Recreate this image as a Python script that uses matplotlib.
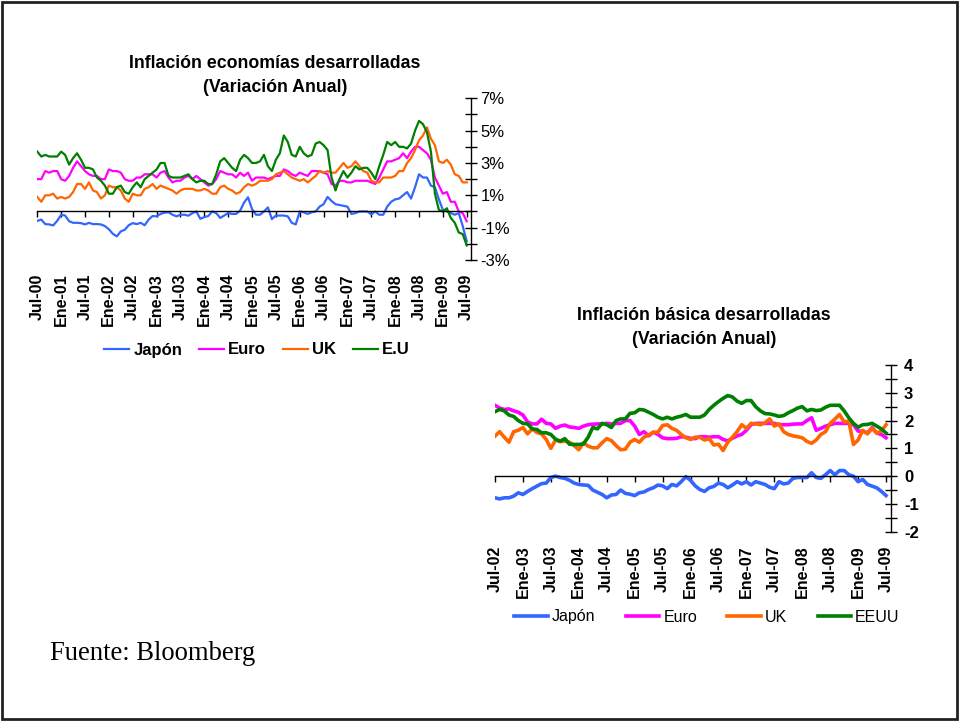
import matplotlib
matplotlib.use("Agg")
import matplotlib.pyplot as plt
from matplotlib.patches import Rectangle
from matplotlib.ticker import FixedLocator, MultipleLocator

plt.rcParams["font.family"] = ["Liberation Sans", "DejaVu Sans"]

# %% data, chart 1: monthly y/y CPI, Jul-00 .. Jul-09
japon1 = [-0.58, -0.5, -0.78, -0.8, -0.86, -0.58,
          -0.2, -0.25, -0.6, -0.7, -0.7, -0.72, -0.8, -0.7, -0.78, -0.78, -0.8, -0.9,
          -1.1, -1.38, -1.54, -1.23, -1.13, -0.85, -0.72, -0.78, -0.7, -0.85, -0.5, -0.28,
          -0.3, -0.15, -0.07, -0.05, -0.2, -0.3, -0.2, -0.2, -0.26, -0.1, 0.0, -0.45,
          -0.35, -0.28, 0.0, -0.1, -0.4, -0.25, -0.1, -0.15, -0.15, 0.05, 0.55, 0.88,
          0.15, -0.2, -0.2, 0.0, 0.25, -0.47, -0.25, -0.25, -0.25, -0.3, -0.7, -0.8,
          0.0, -0.05, -0.15, -0.05, 0.0, 0.3, 0.45, 0.9, 0.65, 0.45, 0.4, 0.35,
          0.3, -0.15, -0.1, 0.0, 0.0, 0.0, -0.18, 0.0, -0.2, -0.2, 0.3, 0.6,
          0.75, 0.8, 1.0, 1.2, 0.8, 1.5, 2.3, 2.1, 2.1, 1.6, 1.5, 0.75,
          0.1, 0.0, -0.1, -0.2, -0.1, -0.9, -1.85]
euro1 = [2.0, 2.0, 2.5, 2.4, 2.5, 2.5,
         2.0, 1.9, 2.2, 2.7, 3.1, 2.8, 2.5, 2.3, 2.2, 2.2, 2.0, 2.0,
         2.6, 2.5, 2.5, 2.4, 2.0, 1.9, 1.9, 2.1, 2.1, 2.3, 2.3, 2.3,
         2.1, 2.4, 2.5, 2.1, 1.8, 1.9, 1.9, 2.1, 2.2, 2.0, 2.2, 2.0,
         1.8, 1.6, 1.7, 2.0, 2.5, 2.4, 2.3, 2.3, 2.1, 2.4, 2.2, 2.4,
         1.9, 2.1, 2.1, 2.1, 2.0, 2.1, 2.2, 2.2, 2.6, 2.5, 2.3, 2.2,
         2.4, 2.3, 2.2, 2.5, 2.5, 2.5, 2.4, 2.3, 1.7, 1.6, 1.9, 1.9,
         1.8, 1.8, 1.9, 1.9, 1.9, 1.9, 1.8, 1.7, 2.1, 2.6, 3.1, 3.1,
         3.2, 3.3, 3.6, 3.3, 3.7, 4.0, 4.0, 3.8, 3.6, 3.2, 2.1, 1.6,
         1.1, 1.2, 0.6, 0.6, 0.0, -0.1, -0.6]
uk1 = [0.9, 0.6, 1.0, 1.0, 1.1, 0.8,
       0.9, 0.8, 0.9, 1.2, 1.7, 1.7, 1.4, 1.8, 1.3, 1.2, 0.8, 1.0,
       1.6, 1.5, 1.5, 1.3, 0.8, 0.6, 1.1, 1.0, 1.0, 1.4, 1.5, 1.7,
       1.4, 1.6, 1.5, 1.4, 1.3, 1.1, 1.3, 1.4, 1.4, 1.4, 1.3, 1.3,
       1.4, 1.3, 1.1, 1.1, 1.5, 1.6, 1.4, 1.3, 1.1, 1.2, 1.5, 1.7,
       1.6, 1.7, 1.9, 1.9, 1.9, 2.0, 2.3, 2.4, 2.5, 2.3, 2.1, 2.0,
       1.9, 2.0, 1.8, 2.0, 2.2, 2.5, 2.4, 2.5, 2.4, 2.4, 2.7, 3.0,
       2.7, 2.8, 3.1, 2.8, 2.5, 2.4, 1.9, 1.8, 1.8, 2.1, 2.1, 2.1,
       2.2, 2.5, 2.5, 3.0, 3.3, 3.8, 4.4, 4.7, 5.2, 4.5, 4.1, 3.1,
       3.0, 3.2, 2.9, 2.3, 2.2, 1.8, 1.8]
eu1 = [3.7, 3.4, 3.5, 3.4, 3.4, 3.4,
       3.7, 3.5, 2.9, 3.3, 3.6, 3.2, 2.7, 2.7, 2.6, 2.1, 1.9, 1.6,
       1.1, 1.1, 1.5, 1.6, 1.2, 1.1, 1.5, 1.8, 1.5, 2.0, 2.2, 2.4,
       2.6, 3.0, 3.0, 2.2, 2.1, 2.1, 2.1, 2.2, 2.3, 2.0, 1.8, 1.9,
       1.9, 1.7, 1.7, 2.3, 3.1, 3.3, 3.0, 2.7, 2.5, 3.2, 3.5, 3.3,
       3.0, 3.0, 3.1, 3.5, 2.8, 2.5, 3.2, 3.6, 4.7, 4.3, 3.5, 3.4,
       4.0, 3.6, 3.4, 3.5, 4.2, 4.3, 4.1, 3.8, 2.1, 1.3, 2.0, 2.5,
       2.1, 2.4, 2.8, 2.6, 2.7, 2.7, 2.4, 2.0, 2.8, 3.5, 4.3, 4.1,
       4.3, 4.0, 4.0, 3.9, 4.2, 5.0, 5.6, 5.4, 4.9, 3.7, 1.1, 0.1,
       0.0, 0.2, -0.4, -0.7, -1.3, -1.4, -2.1]
ticks1 = ["Jul-00", "Ene-01", "Jul-01", "Ene-02", "Jul-02", "Ene-03", "Jul-03",
          "Ene-04", "Jul-04", "Ene-05", "Jul-05", "Ene-06", "Jul-06", "Ene-07",
          "Jul-07", "Ene-08", "Jul-08", "Ene-09", "Jul-09"]
yvals1 = [-3, -1, 1, 3, 5, 7]

# %% data, chart 2: core inflation, Jul-02 .. Jul-09
japon2 = [-0.78, -0.82, -0.78, -0.78, -0.72, -0.6, -0.66, -0.55, -0.45, -0.36,
          -0.27, -0.25, -0.05, 0.0, -0.05, -0.08, -0.15, -0.25, -0.3, -0.32,
          -0.33, -0.5, -0.58, -0.66, -0.78, -0.68, -0.66, -0.5, -0.62, -0.65,
          -0.7, -0.6, -0.57, -0.48, -0.42, -0.32, -0.35, -0.45, -0.3, -0.35,
          -0.2, -0.02, -0.15, -0.35, -0.48, -0.55, -0.42, -0.37, -0.25, -0.3,
          -0.42, -0.32, -0.2, -0.28, -0.2, -0.32, -0.2, -0.25, -0.3, -0.4,
          -0.45, -0.2, -0.28, -0.25, -0.08, -0.05, -0.05, -0.05, 0.12, -0.05,
          -0.08, 0.05, 0.2, 0.05, 0.2, 0.2, 0.05, 0.0, -0.2, -0.12,
          -0.3, -0.36, -0.42, -0.55, -0.7]
euro2 = [2.55, 2.45, 2.4, 2.42, 2.35, 2.3, 2.2, 1.95, 1.88, 1.88,
         2.05, 1.9, 1.88, 1.72, 1.8, 1.84, 1.77, 1.75, 1.72, 1.8,
         1.85, 1.87, 1.88, 1.88, 1.9, 1.88, 1.9, 1.9, 2.0, 2.0,
         1.8, 1.5, 1.6, 1.45, 1.58, 1.5, 1.38, 1.35, 1.35, 1.36,
         1.42, 1.4, 1.36, 1.35, 1.42, 1.42, 1.4, 1.42, 1.42, 1.32,
         1.27, 1.36, 1.45, 1.5, 1.65, 1.85, 1.9, 1.9, 1.9, 1.9,
         1.9, 1.85, 1.85, 1.85, 1.87, 1.88, 1.88, 2.0, 2.1, 1.65,
         1.72, 1.8, 1.85, 1.9, 1.9, 1.9, 1.9, 1.85, 1.62, 1.62,
         1.55, 1.75, 1.55, 1.5, 1.38]
uk2 = [1.44, 1.6, 1.4, 1.22, 1.6, 1.65, 1.75, 1.52, 1.7, 1.57,
       1.52, 1.32, 1.0, 1.3, 1.24, 1.26, 1.22, 1.1, 0.95, 1.2,
       1.08, 1.02, 1.02, 1.2, 1.35, 1.28, 1.1, 0.95, 0.97, 1.22,
       1.32, 1.22, 1.4, 1.48, 1.58, 1.58, 1.82, 1.85, 1.72, 1.65,
       1.5, 1.38, 1.32, 1.4, 1.4, 1.3, 1.35, 1.12, 1.15, 0.92,
       1.22, 1.4, 1.6, 1.85, 1.72, 1.9, 1.88, 1.85, 1.92, 2.06,
       1.8, 1.88, 1.6, 1.5, 1.45, 1.42, 1.38, 1.25, 1.18, 1.3,
       1.5, 1.6, 1.9, 2.05, 2.22, 1.95, 1.98, 1.14, 1.3, 1.65,
       1.52, 1.72, 1.55, 1.62, 1.85]
eeuu2 = [2.32, 2.4, 2.35, 2.2, 2.15, 2.0, 1.9, 1.88, 1.7, 1.68,
         1.56, 1.56, 1.5, 1.33, 1.26, 1.35, 1.15, 1.14, 1.14, 1.16,
         1.4, 1.75, 1.7, 1.9, 1.85, 1.75, 2.0, 2.06, 2.06, 2.26,
         2.28, 2.4, 2.38, 2.3, 2.22, 2.12, 2.06, 2.12, 2.06, 2.12,
         2.16, 2.22, 2.12, 2.12, 2.12, 2.2, 2.4, 2.55, 2.68, 2.8,
         2.9, 2.85, 2.7, 2.62, 2.72, 2.72, 2.5, 2.35, 2.25, 2.24,
         2.2, 2.15, 2.18, 2.28, 2.36, 2.45, 2.5, 2.35, 2.4, 2.36,
         2.38, 2.48, 2.55, 2.55, 2.55, 2.35, 2.1, 1.9, 1.76, 1.85,
         1.86, 1.9, 1.8, 1.7, 1.55]
ticks2 = ["Jul-02", "Ene-03", "Jul-03", "Ene-04", "Jul-04", "Ene-05", "Jul-05",
          "Ene-06", "Jul-06", "Ene-07", "Jul-07", "Ene-08", "Jul-08", "Ene-09",
          "Jul-09"]
yvals2 = [-2, -1, 0, 1, 2, 3, 4]

colors = ["#3366ff", "#ff00ff", "#ff6600", "#008000"]

# %% figure
W, H = 959, 721
fig = plt.figure(figsize=(W / 100, H / 100), dpi=100)
fig.patches.append(Rectangle((2 / W, 2 / H), (W - 4) / W, (H - 4) / H,
                             transform=fig.transFigure, fill=False,
                             edgecolor="#222222", linewidth=2))


def style_axes(ax, n, yvals, ylabels, ticks, pad_x, pad_y, yweight):
    ax.set_xlim(0, n)
    for s in ["top", "left"]:
        ax.spines[s].set_visible(False)
    ax.spines["bottom"].set_position(("data", 0))
    ax.spines["bottom"].set_linewidth(1)
    ax.spines["right"].set_linewidth(1)
    ax.yaxis.tick_right()
    ax.yaxis.set_major_locator(FixedLocator(yvals))
    ax.set_yticklabels(ylabels, fontsize=12, fontweight=yweight)
    ax.tick_params(axis="y", which="both", direction="inout", length=8,
                   width=1, pad=pad_y)
    ax.set_xticks(range(0, 6 * len(ticks), 6))
    ax.set_xticklabels(ticks, rotation=90, fontsize=11.5, fontweight="bold")
    ax.tick_params(axis="x", direction="out", length=4, width=1, pad=pad_x)
    ax.patch.set_visible(False)


# chart 1
ax1 = fig.add_axes([37.3 / W, 1 - 260 / H, 433.4 / W, 161.7 / H])
names1 = ["Japón", "Euro", "UK", "E.U"]
for vals, c, name in zip([japon1, euro1, uk1, eu1], colors, names1):
    ax1.plot(range(len(vals)), vals, color=c, lw=1.6, label=name)
ax1.set_ylim(-3, 7)
style_axes(ax1, len(japon1), yvals1, [f"{v}%" for v in yvals1], ticks1,
           40.5, 3.0, "normal")
ax1.yaxis.set_minor_locator(MultipleLocator(1))

fig.text(275 / W, 1 - 64 / H, "Inflación economías desarrolladas",
         ha="center", va="center", fontsize=12.8, fontweight="bold")
fig.text(275 / W, 1 - 87 / H, "(Variación Anual)",
         ha="center", va="center", fontsize=12.8, fontweight="bold")
h1, l1 = ax1.get_legend_handles_labels()
fig.legend(h1, l1, loc="center", bbox_to_anchor=(257 / W, 1 - 350 / H),
           ncol=4, frameon=False, prop=dict(size=12, weight="bold"),
           handlelength=1.5, handletextpad=0.25, columnspacing=1.0)

# chart 2
ax2 = fig.add_axes([495 / W, 1 - 531.7 / H, 395.7 / W, 166.7 / H])
names2 = ["Japón", "Euro", "UK", "EEUU"]
for vals, c, name in zip([japon2, euro2, uk2, eeuu2], colors, names2):
    ax2.plot(range(len(vals)), vals, color=c, lw=2.6, label=name)
ax2.set_ylim(-2, 4)
style_axes(ax2, len(japon2), yvals2, [str(v) for v in yvals2], ticks2,
           46, 5.5, "bold")
ax2.yaxis.set_minor_locator(MultipleLocator(0.5))

fig.text(704 / W, 1 - 316 / H, "Inflación básica desarrolladas",
         ha="center", va="center", fontsize=12.8, fontweight="bold")
fig.text(704 / W, 1 - 340 / H, "(Variación Anual)",
         ha="center", va="center", fontsize=12.8, fontweight="bold")
h2, l2 = ax2.get_legend_handles_labels()
fig.legend(h2, l2, loc="center", bbox_to_anchor=(707 / W, 1 - 617 / H),
           ncol=4, frameon=False, prop=dict(size=11.5),
           handlelength=2.1, handletextpad=0.25, columnspacing=1.9)

fig.text(50 / W, 1 - 660 / H, "Fuente: Bloomberg", ha="left", va="baseline",
         fontsize=19.2, family=["Liberation Serif", "DejaVu Serif"])

fig.savefig("out.png", dpi=100)
